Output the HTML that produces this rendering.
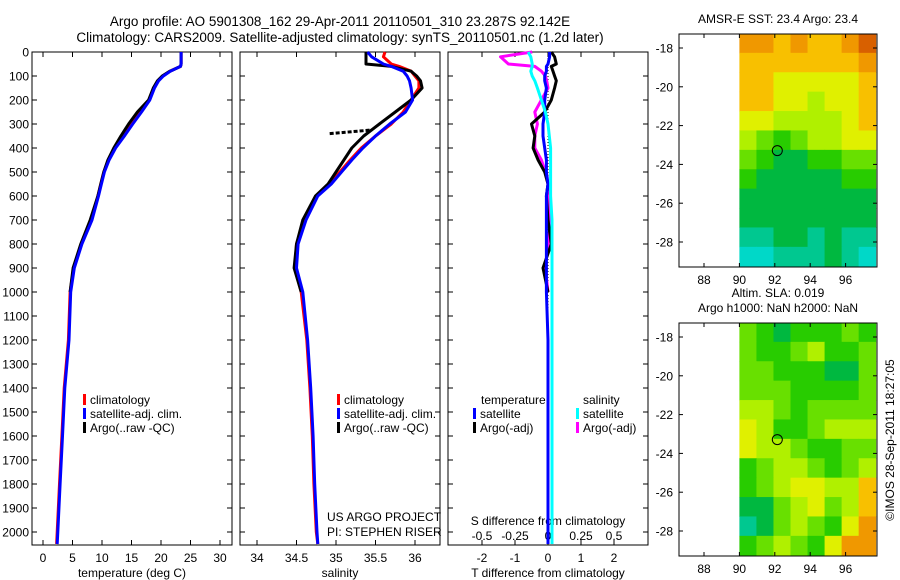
<!DOCTYPE html>
<html><head><meta charset="utf-8"><style>
html,body{margin:0;padding:0;background:#fff}
svg{display:block}
text{font-family:"Liberation Sans",sans-serif;fill:#000}
</style></head><body>
<svg id="c" width="900" height="580" viewBox="0 0 900 580"></svg>
<script>
// ---------- data ----------
const depths = [0,20,50,60,80,100,120,150,200,250,300,350,400,450,500,550,600,700,800,900,1000,1200,1400,1600,1800,2000,2050];
const tempClim = [23.4,23.4,23.4,23.3,21.5,20.3,19.5,18.8,18,16.5,15,13.6,12.2,11.1,10.3,9.8,9.3,8.2,6.5,5.2,4.6,4.3,3.6,3.2,2.8,2.4,2.3];
const tempSat = [23.4,23.4,23.4,23.3,21.6,20.4,19.6,18.9,18.1,16.7,15.2,13.8,12.3,11.2,10.4,9.9,9.4,8.3,6.6,5.3,4.7,4.4,3.7,3.3,2.9,2.5,2.4];
const tempArgo = [23.4,23.4,23.4,23.3,21.5,20.2,19.4,18.7,17.9,16.0,14.5,13.2,12.0,11.0,10.3,9.8,9.3,8.0,6.4,5.1,4.6,null,null,null,null,null,null];
const salClim = [35.62,35.6,35.7,35.8,35.95,36.0,36.05,36.05,35.95,35.85,35.7,35.5,35.32,35.18,35.05,34.92,34.75,34.6,34.5,34.48,34.56,34.63,34.67,34.7,34.72,34.75,34.77];
const salSat = [35.4,35.45,35.6,35.7,35.85,35.9,35.93,35.95,35.97,35.88,35.68,35.5,35.34,35.2,35.07,34.94,34.77,34.62,34.52,34.5,34.58,34.64,34.68,34.71,34.73,34.76,34.77];
const salArgo = [35.38,35.38,35.38,35.7,35.95,36.02,36.07,36.09,35.95,35.75,35.55,35.35,35.2,35.1,35.0,34.9,34.74,34.58,34.5,34.47,34.56,null,null,null,null,null,null];
const salSpikeDepth = [340,325];
const salSpikeVal = [34.92,35.45];
const tDiffSat = [0.05,0.05,0,-0.05,-0.05,-0.1,-0.1,-0.05,-0.1,-0.1,-0.15,-0.15,-0.1,-0.05,-0.05,0,-0.05,-0.05,-0.05,-0.05,-0.05,0,0,0,0,0,0];
const tDiffArgo = [0.1,0.2,0.25,0.1,0.15,0.2,0.25,0.2,0.1,-0.1,-0.5,-0.4,-0.45,-0.3,-0.1,0,-0.05,0,0.1,-0.15,0,null,null,null,null,null,null];
const sDiffSat = [-0.15,-0.13,-0.12,-0.12,-0.13,-0.12,-0.1,-0.08,-0.05,-0.02,0,0.01,0.02,0.02,0.02,0.02,0.02,0.03,0.03,0.03,0.03,0.03,0.03,0.03,0.03,0.03,0.03];
const sDiffArgo = [-0.12,-0.36,-0.3,-0.1,-0.05,-0.02,-0.01,0,-0.05,-0.1,-0.08,-0.1,-0.1,-0.05,-0.02,0,0,0.02,0,-0.02,0,null,null,null,null,null,null];
const depthTicks = [0,100,200,300,400,500,600,700,800,900,1000,1100,1200,1300,1400,1500,1600,1700,1800,1900,2000];
const tempTicks = [0,5,10,15,20,25,30];
const salTicks = [34,34.5,35,35.5,36];
const tdTicks = [-2,-1,0,1,2];
const sdTicks = [-0.5,-0.25,0,0.25,0.5];
const latTicks = [-18,-20,-22,-24,-26,-28];
const lonTicks = [88,90,92,94,96];
const sstGrid = ["88787789","77777778","77666667","77665667","66555567","54345566","43223344","32222233","22222222","22222222","11221211","00111210"];
const slaGrid = ["43233343","43345334","44333224","44433334","55434444","65334555","65543344","34554345","34566557","22456457","12454368","34543688"];
const argoLon = 92.142, argoLat = -23.287;

// ---------- helpers ----------
const svg = document.getElementById('c');
const NS = 'http://www.w3.org/2000/svg';
function mk(tag, attrs, parent){const e=document.createElementNS(NS,tag);for(const k in attrs)e.setAttribute(k,attrs[k]);(parent||svg).appendChild(e);return e;}
function txt(x,y,s,anchor,size,parent){const t=mk('text',{x:x,y:y,'text-anchor':anchor||'start','font-size':size||12},parent);t.textContent=s;return t;}

const yTop=52, yBot=545;
const yD = d => yTop + d*0.24;
const panels = [
  {x0:32,x1:232,vx:v=>43+v*5.9},
  {x0:240,x1:440,vx:v=>257+(v-34)*79},
  {x0:448,x1:648,vx:v=>548+v*33}
];
const sdx = v => 548 + v*132;

// titles
let t;
t=txt(340,26,'Argo profile: AO 5901308_162 29-Apr-2011 20110501_310 23.287S 92.142E','middle',13.5);

t=txt(340,42,'Climatology: CARS2009. Satellite-adjusted climatology: synTS_20110501.nc (1.2d later)','middle',13.5);


// frames and ticks
panels.forEach((p,i)=>{
  const g=mk('g',{});
  
  
  mk('rect',{x:p.x0,y:yTop,width:p.x1-p.x0,height:yBot-yTop,fill:'none',stroke:'#000','stroke-width':1},g);
  depthTicks.forEach(d=>{
    const y=yD(d);
    mk('line',{x1:p.x0,y1:y,x2:p.x0+5,y2:y,stroke:'#000'},g);
    mk('line',{x1:p.x1,y1:y,x2:p.x1-5,y2:y,stroke:'#000'},g);
  });
});
// depth labels
const dl=mk('g',{});


depthTicks.forEach(d=>txt(29,yD(d)+4.5,String(d),'end',12,dl));

function xTicks(p,ticks,fx,labY,parent){
  ticks.forEach(v=>{
    const x=fx(v);
    mk('line',{x1:x,y1:yBot,x2:x,y2:yBot-5,stroke:'#000'},parent);
    mk('line',{x1:x,y1:yTop,x2:x,y2:yTop+5,stroke:'#000'},parent);
    txt(x,labY,String(v),'middle',12,parent);
  });
}
const xa1=mk('g',{});
xTicks(panels[0],tempTicks,panels[0].vx,562,xa1);
const xa2=mk('g',{});
xTicks(panels[1],salTicks,panels[1].vx,562,xa2);
const xa3=mk('g',{});
xTicks(panels[2],tdTicks,panels[2].vx,562,xa3);
const sda=mk('g',{});
sdTicks.forEach(v=>txt(sdx(v),540,String(v),'middle',12,sda));

t=txt(132,577,'temperature (deg C)','middle',12);
t=txt(340,577,'salinity','middle',12);
t=txt(548,577,'T difference from climatology','middle',12);
t=txt(548,525,'S difference from climatology','middle',12);
t=txt(327,521,'US ARGO PROJECT','start',12);
t=txt(327,536,'PI: STEPHEN RISER','start',12);

// series
function series(vals,fx,color,name,dash){
  let d='',pen=false;
  for(let i=0;i<depths.length;i++){
    const v=vals[i];
    if(v===null||v===undefined){pen=false;continue;}
    d+=(pen?'L':'M')+fx(v).toFixed(1)+','+yD(depths[i]).toFixed(1);
    pen=true;
  }
  const p=mk('path',{d:d,fill:'none',stroke:color,'stroke-width':3,'stroke-linejoin':'round'});
  if(dash)p.setAttribute('stroke-dasharray',dash);
  
  
  return p;
}
series(tempClim,panels[0].vx,'#ff0000','temp-climatology-line');
series(tempArgo,panels[0].vx,'#000000','temp-argo-line');
series(tempSat,panels[0].vx,'#0000ff','temp-satellite-line');
series(salClim,panels[1].vx,'#ff0000','salinity-climatology-line');
series(salArgo,panels[1].vx,'#000000','salinity-argo-line');
series(salSat,panels[1].vx,'#0000ff','salinity-satellite-line');
{
  let d='';
  salSpikeVal.forEach((v,i)=>{d+=(i?'L':'M')+panels[1].vx(v)+','+yD(salSpikeDepth[i]);});
  const p=mk('path',{d:d,stroke:'#000','stroke-width':3,fill:'none','stroke-dasharray':'4,2'});
  
  
}
// zero line
const zl=mk('line',{x1:548,y1:yTop,x2:548,y2:yBot,stroke:'#000','stroke-dasharray':'1,2'});

series(sDiffArgo,sdx,'#ff00ff','s-diff-argo-line');
series(tDiffArgo,panels[2].vx,'#000000','t-diff-argo-line');
series(tDiffSat,panels[2].vx,'#0000ff','t-diff-satellite-line');
series(sDiffSat,sdx,'#00ffff','s-diff-satellite-line');

// legends
function legendEntry(x,y,color,label,name){
  const g=mk('g',{});
  
  
  mk('rect',{x:x,y:y-10,width:3,height:11,fill:color},g);
  txt(x+7,y,label,'start',12,g);
}
legendEntry(83,404,'#ff0000','climatology','legend-temp-climatology');
legendEntry(83,418,'#0000ff','satellite-adj. clim.','legend-temp-satellite');
legendEntry(83,432,'#000000','Argo(..raw -QC)','legend-temp-argo');
legendEntry(337,404,'#ff0000','climatology','legend-sal-climatology');
legendEntry(337,418,'#0000ff','satellite-adj. clim.','legend-sal-satellite');
legendEntry(337,432,'#000000','Argo(..raw -QC)','legend-sal-argo');
t=txt(481,404,'temperature','start',12);
t=txt(583,404,'salinity','start',12);
legendEntry(473,418,'#0000ff','satellite','legend-tdiff-satellite');
legendEntry(473,432,'#000000','Argo(-adj)','legend-tdiff-argo');
legendEntry(576,418,'#00ffff','satellite','legend-sdiff-satellite');
legendEntry(576,432,'#ff00ff','Argo(-adj)','legend-sdiff-argo');

// maps
const palette=['#00d8c8','#00c890','#00b840','#28cc00','#68e000','#b0f000','#e0f000','#f8c000','#f09800','#d86000'];
function drawMap(top,grid,name,title1,title2){
  const g=mk('g',{});
  
  
  const x0=679,x1=877,bot=top+233;
  const lonX=lon=>704+(lon-88)*17.7;
  const latY=lat=>top+14+(-18-lat)*19.4;
  const cols=grid[0].length, rows=grid.length;
  const lonA=90, lonB=97.7, latA=-17.25, latB=-29.25;
  const cw=(lonB-lonA)/cols, rh=(latA-latB)/rows;
  for(let r=0;r<rows;r++)for(let c=0;c<cols;c++){
    const xa=lonX(lonA+c*cw), xb=lonX(lonA+(c+1)*cw);
    const ya=latY(latA-r*rh), yb=latY(latA-(r+1)*rh);
    const cell=mk('rect',{x:xa,y:Math.max(ya,top),width:xb-xa+0.5,height:Math.min(yb,bot)-Math.max(ya,top)+0.5,fill:palette[+grid[r][c]]},g);
    
    
  }
  mk('rect',{x:x0,y:top,width:x1-x0,height:bot-top,fill:'none',stroke:'#000'},g);
  latTicks.forEach(l=>{const y=latY(l);mk('line',{x1:x0,y1:y,x2:x0+4,y2:y,stroke:'#000'},g);mk('line',{x1:x1,y1:y,x2:x1-4,y2:y,stroke:'#000'},g);txt(x0-6,y+4.5,String(l),'end',12,g);});
  lonTicks.forEach(l=>{const x=lonX(l);mk('line',{x1:x,y1:bot,x2:x,y2:bot-4,stroke:'#000'},g);mk('line',{x1:x,y1:top,x2:x,y2:top+4,stroke:'#000'},g);txt(x,bot+17,String(l),'middle',12,g);});
  const circ=mk('circle',{cx:lonX(argoLon),cy:latY(argoLat),r:5,fill:'none',stroke:'#000'},g);
  
  
  if(title2){txt(778,top-26,title1,'middle',12,g);txt(778,top-11,title2,'middle',12,g);}
  else txt(778,top-11,title1,'middle',12,g);
}
drawMap(34,sstGrid,'sst-map','AMSR-E SST: 23.4  Argo: 23.4');
drawMap(323,slaGrid,'sla-map','Altim. SLA: 0.019','Argo h1000: NaN h2000: NaN');

t=txt(0,0,'©IMOS 28-Sep-2011 18:27:05','middle',12);
t.setAttribute('transform','translate(894,440) rotate(-90)');


</script>
</body></html>
